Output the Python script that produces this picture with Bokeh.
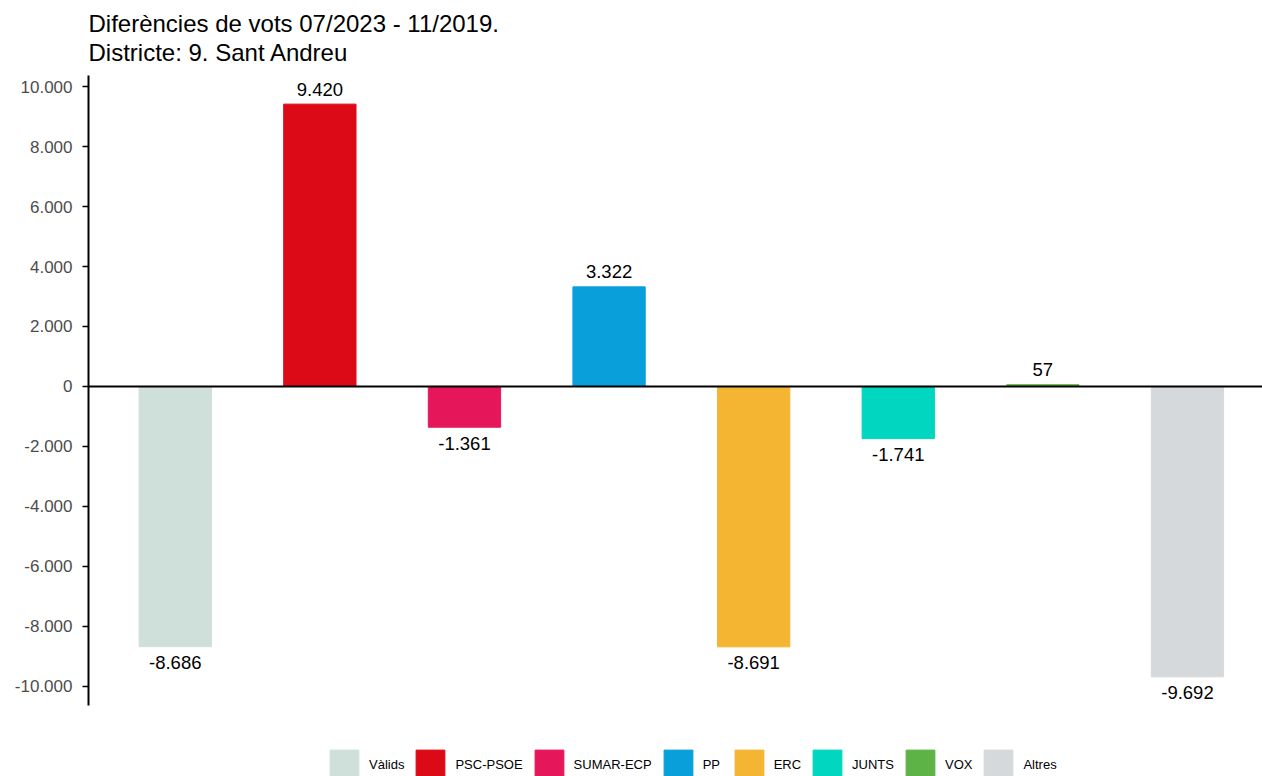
from bokeh.plotting import figure
from bokeh.models import (ColumnDataSource, Range1d, Span, FixedTicker, Legend,
                          LegendItem, Title)
from bokeh.layouts import column
from bokeh.core.properties import value
from bokeh.embed import file_html
from bokeh.resources import INLINE

# ---- data ----
categories = ["Vàlids", "PSC-PSOE", "SUMAR-ECP", "PP", "ERC", "JUNTS", "VOX", "Altres"]
differences = [-8686, 9420, -1361, 3322, -8691, -1741, 57, -9692]
colors = ["#cfe0da", "#dc0a17", "#e5175a", "#089fdb", "#f4b632", "#00d6c0", "#5db346", "#d6d9dc"]
y_ticks = [-10000, -8000, -6000, -4000, -2000, 0, 2000, 4000, 6000, 8000, 10000]


def fmt(v):
    return f"{v:,}".replace(",", ".")


FONT = "Liberation Sans, Helvetica, Arial, sans-serif"

xs = list(range(1, len(categories) + 1))
src = ColumnDataSource(dict(
    x=xs,
    top=differences,
    color=colors,
    label=[fmt(v) for v in differences],
    yoff=[-15 if v >= 0 else 16 for v in differences],
))

lo, hi = min(differences), max(differences)
span_ = hi - lo
W = 1262
H_MAIN, H_LEG = 736, 40
LEFT = 88
frame_w = W - LEFT

p = figure(width=W, height=H_MAIN, output_backend="svg", toolbar_location=None,
           x_range=Range1d(0.4, 0.4 + frame_w / 144.6),
           y_range=Range1d(lo - 0.05 * span_, hi + 0.05 * span_),
           min_border_left=LEFT, min_border_right=0, min_border_top=75,
           min_border_bottom=31)
p.outline_line_color = None
p.grid.visible = False
p.xaxis.visible = False
p.background_fill_color = "white"
p.border_fill_color = "white"

r = p.vbar(x="x", top="top", bottom=0, width=0.5, color="color", source=src)

p.text(x="x", y="top", text="label", y_offset="yoff", source=src,
       text_align="center", text_baseline="middle",
       text_font=value(FONT), text_font_size="18.5px", text_color="black")

p.add_layout(Span(location=0, dimension="width", line_color="black", line_width=2))

ax = p.yaxis[0]
ax.ticker = FixedTicker(ticks=y_ticks)
ax.major_label_overrides = {t: fmt(t) for t in y_ticks}
ax.major_label_text_font = FONT
ax.major_label_text_font_size = "17px"
ax.major_label_text_color = "#4d4d4d"
ax.axis_line_color = "black"
ax.axis_line_width = 2
ax.major_tick_line_color = "black"
ax.major_tick_line_width = 1.5
ax.major_tick_out = 6
ax.major_tick_in = 0
ax.minor_tick_line_color = None
ax.major_label_standoff = 10

title = Title(text="Diferències de vots 07/2023 - 11/2019.\nDistricte: 9. Sant Andreu",
              text_font=FONT, text_font_size="24px", text_font_style="normal",
              text_line_height=1.1,
              text_color="black", align="left", vertical_align="top", standoff=14)
p.add_layout(title, "above")

# ---- legend strip ----
lg = figure(width=W, height=H_LEG, output_backend="svg", toolbar_location=None,
            x_range=Range1d(0, 1), y_range=Range1d(0, 1),
            min_border_left=0, min_border_right=0, min_border_top=0,
            min_border_bottom=0)
lg.axis.visible = False
lg.grid.visible = False
lg.outline_line_color = None
lr = lg.vbar(x="x", top="top", bottom=0, width=0.5, color="color", source=src,
             visible=False)

items = [LegendItem(label=c, renderers=[lr], index=i) for i, c in enumerate(categories)]
legend = Legend(items=items, orientation="horizontal", location=(238, -6),
                glyph_width=36, glyph_height=36, label_standoff=7, spacing=8,
                padding=0, margin=0, border_line_color=None,
                background_fill_alpha=0, inactive_fill_alpha=0,
                label_text_font=FONT,
                label_text_font_size="13px", label_text_color="black")
lg.add_layout(legend, "center")

layout = column(p, lg, spacing=0)
open("out.html", "w").write(file_html(layout, INLINE))
